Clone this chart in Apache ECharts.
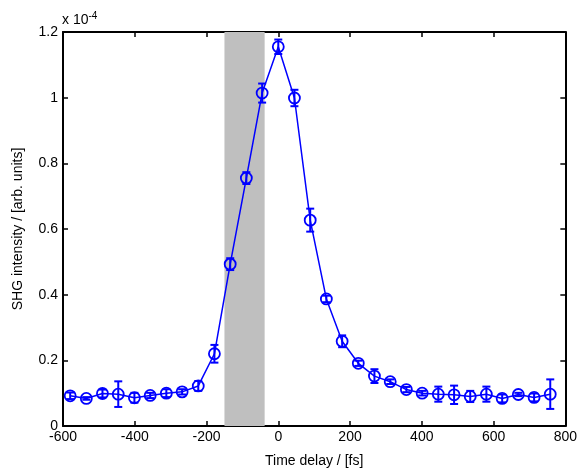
<!DOCTYPE html>
<html><head><meta charset="utf-8">
<script src="https://cdn.jsdelivr.net/npm/echarts@6/dist/echarts.min.js"></script>
<style>html,body{margin:0;padding:0;background:#fff}#c{width:580px;height:473px}</style>
</head><body><div id="c"></div>
<script>
const delays = [-580,-535,-490,-446,-401,-357,-312,-268,-223,-178,-134,-89,-45,0,45,89,134,178,223,268,312,357,401,446,490,535,580,624,669,713,758];
const intensity = [0.092,0.084,0.099,0.097,0.086,0.093,0.100,0.104,0.122,0.220,0.493,0.755,1.014,1.155,0.999,0.627,0.387,0.258,0.191,0.152,0.135,0.111,0.100,0.097,0.095,0.090,0.097,0.084,0.096,0.087,0.097];
const errors = [0.010,0.004,0.012,0.039,0.015,0.008,0.012,0.008,0.015,0.027,0.018,0.018,0.029,0.022,0.025,0.035,0.010,0.018,0.008,0.021,0.007,0.008,0.007,0.023,0.028,0.017,0.023,0.012,0.005,0.012,0.045];
const shadeRange = [-150, -38];
const xTicks = {min:-600, max:800, interval:200};
const yTicks = {min:0, max:1.2, interval:0.2};

const blue = '#0000ff';
const font = 'Liberation Sans, Arial, sans-serif';
const chart = echarts.init(document.getElementById('c'), null, {renderer:'canvas'});
const pts = delays.map((d,i)=>[d, intensity[i]]);
const errData = delays.map((d,i)=>[d, intensity[i]-errors[i], intensity[i]+errors[i]]);
const axisCommon = {
  axisLine:{show:true, onZero:false, lineStyle:{color:'#000', width:2}},
  axisTick:{show:true, inside:true, length:5, lineStyle:{color:'#000', width:1.5}},
  splitLine:{show:false},
};
chart.setOption({
  animation:false,
  grid:{left:63, right:13, top:32, bottom:47},
  xAxis:[
    Object.assign({type:'value', min:xTicks.min, max:xTicks.max, interval:xTicks.interval,
      name:'Time delay / [fs]', nameLocation:'middle', nameGap:28,
      nameTextStyle:{fontFamily:font, fontSize:14, color:'#000'},
      axisLabel:{fontFamily:font, fontSize:14, color:'#000', margin:4, showMinLabel:true, showMaxLabel:true}}, axisCommon),
    Object.assign({type:'value', position:'top', min:xTicks.min, max:xTicks.max, interval:xTicks.interval,
      axisLabel:{show:false}}, axisCommon)
  ],
  yAxis:[
    Object.assign({type:'value', min:yTicks.min, max:yTicks.max, interval:yTicks.interval,
      name:'SHG intensity / [arb. units]', nameLocation:'middle', nameGap:38,
      nameTextStyle:{fontFamily:font, fontSize:14, color:'#000'},
      axisLabel:{fontFamily:font, fontSize:14, color:'#000', margin:5,
        formatter:v=>String(Math.round(v*10)/10)}}, axisCommon),
    Object.assign({type:'value', position:'right', min:yTicks.min, max:yTicks.max, interval:yTicks.interval,
      axisLabel:{show:false}}, axisCommon)
  ],
  series:[
    {type:'line', data:[], z:1, silent:true,
      markArea:{silent:true, itemStyle:{color:'#bfbfbf', opacity:1},
        data:[[{xAxis:shadeRange[0]},{xAxis:shadeRange[1]}]]}},
    {type:'line', data:pts, z:3, symbol:'circle', symbolSize:11, showSymbol:true,
      lineStyle:{color:blue, width:1.5},
      itemStyle:{color:'rgba(255,255,255,0)', borderColor:blue, borderWidth:1.8}},
    {type:'custom', data:errData, z:4,
      renderItem:(params, api)=>{
        const x = api.value(0);
        const lo = api.coord([x, api.value(1)]);
        const hi = api.coord([x, api.value(2)]);
        const c = 4;
        const st = {stroke:blue, lineWidth:2};
        return {type:'group', children:[
          {type:'line', shape:{x1:lo[0], y1:lo[1], x2:hi[0], y2:hi[1]}, style:st},
          {type:'line', shape:{x1:lo[0]-c, y1:lo[1], x2:lo[0]+c, y2:lo[1]}, style:st},
          {type:'line', shape:{x1:hi[0]-c, y1:hi[1], x2:hi[0]+c, y2:hi[1]}, style:st}
        ]};
      }}
  ],
  graphic:[
    {type:'text', left:62, top:11, style:{text:'x 10{s|-4}', fontFamily:font, fontSize:14, fill:'#000',
      rich:{s:{fontFamily:font, fontSize:10, fill:'#000', verticalAlign:'top', padding:[0,0,8,0]}}}}
  ]
});
</script></body></html>
